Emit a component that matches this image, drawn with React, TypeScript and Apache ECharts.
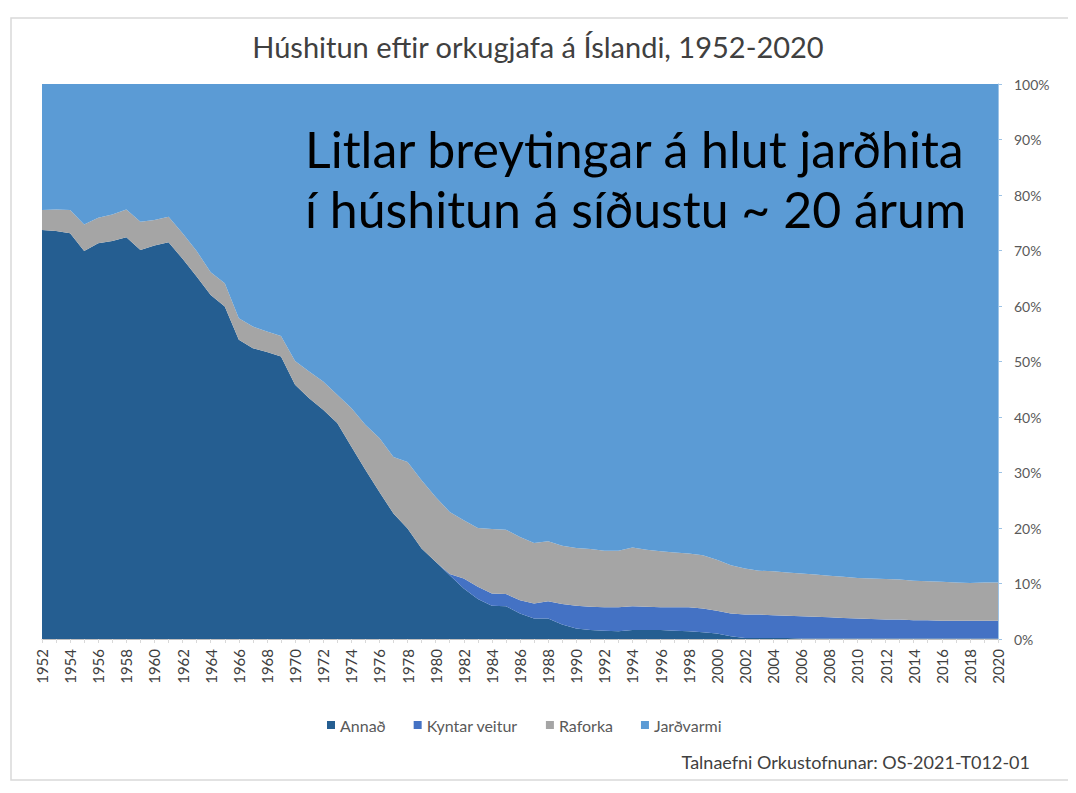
import React, { useEffect, useRef } from "react";
import * as echarts from "echarts";

const years: string[] = [];
for (let y = 1952; y <= 2020; y++) years.push(String(y));

const annad = [
  73.7, 73.5, 73.1, 69.9, 71.3, 71.7, 72.4, 70.1, 70.9, 71.5,
  68.5, 65.3, 62.0, 59.9, 53.9, 52.4, 51.7, 50.9, 45.8, 43.4,
  41.3, 38.9, 34.7, 30.5, 26.5, 22.6, 19.9, 16.3, 13.9, 11.5,
  9.1, 7.2, 6.0, 5.9, 4.6, 3.7, 3.7, 2.6, 1.9, 1.6,
  1.5, 1.4, 1.6, 1.6, 1.6, 1.5, 1.4, 1.2, 1.0, 0.5,
  0.2, 0.2, 0.2, 0.2, 0.1, 0.1, 0.1, 0.1, 0.1, 0.1,
  0.1, 0.1, 0.1, 0.1, 0.1, 0.1, 0.1, 0.1, 0.1,
];
const kyntarVeitur = [
  0, 0, 0, 0, 0, 0, 0, 0, 0, 0,
  0, 0, 0, 0, 0, 0, 0, 0, 0, 0,
  0, 0, 0, 0, 0, 0, 0, 0, 0, 0.2,
  1.8, 2.2, 2.2, 2.2, 2.4, 2.7, 3.1, 3.7, 4.1, 4.2,
  4.2, 4.3, 4.3, 4.2, 4.1, 4.2, 4.3, 4.3, 4.1, 4.1,
  4.2, 4.2, 4.1, 4.0, 4.0, 3.9, 3.8, 3.7, 3.6, 3.5,
  3.4, 3.4, 3.3, 3.3, 3.2, 3.2, 3.2, 3.2, 3.2,
];
const raforka = [
  3.6, 3.9, 4.2, 4.8, 4.6, 4.8, 5.0, 5.1, 4.6, 4.6,
  4.6, 4.6, 4.1, 4.2, 3.9, 3.9, 3.7, 3.7, 4.3, 4.8,
  5.1, 5.1, 6.9, 8.1, 9.7, 10.2, 12.0, 12.3, 11.7, 11.2,
  10.5, 10.6, 11.6, 11.6, 11.4, 10.9, 10.8, 10.5, 10.4, 10.4,
  10.2, 10.2, 10.6, 10.3, 10.1, 9.9, 9.7, 9.6, 9.2, 8.7,
  8.3, 7.9, 7.9, 7.8, 7.7, 7.6, 7.5, 7.4, 7.3, 7.3,
  7.3, 7.2, 7.1, 7.0, 7.0, 6.9, 6.8, 6.9, 6.9,
];
const jardvarmi = [
  22.7, 22.6, 22.7, 25.3, 24.1, 23.5, 22.6, 24.8, 24.5, 23.9,
  26.9, 30.1, 33.9, 35.9, 42.2, 43.7, 44.6, 45.4, 49.9, 51.8,
  53.6, 56.0, 58.4, 61.4, 63.8, 67.2, 68.1, 71.4, 74.4, 77.1,
  78.6, 80.0, 80.2, 80.3, 81.6, 82.7, 82.4, 83.2, 83.6, 83.8,
  84.1, 84.1, 83.5, 83.9, 84.2, 84.4, 84.6, 84.9, 85.7, 86.7,
  87.3, 87.7, 87.8, 88.0, 88.2, 88.4, 88.6, 88.8, 89.0, 89.1,
  89.2, 89.3, 89.5, 89.6, 89.7, 89.8, 89.9, 89.8, 89.8,
];

const seriesNames = ["Annað", "Kyntar veitur", "Raforka", "Jarðvarmi"];
const seriesColors = ["#255E91", "#4472C4", "#A5A5A5", "#5B9BD5"];
const seriesData = [annad, kyntarVeitur, raforka, jardvarmi];

const title = "Húshitun eftir orkugjafa á Íslandi, 1952-2020";
const noteLine1 = "Litlar breytingar á hlut jarðhita";
const noteLine2 = "í húshitun á síðustu ~ 20 árum";
const source = "Talnaefni Orkustofnunar: OS-2021-T012-01";

const FONT = "Lato, 'Open Sans', sans-serif";

export default function App() {
  const ref = useRef<HTMLDivElement>(null);
  useEffect(() => {
    if (!ref.current) return;
    const chart = echarts.init(ref.current, null, { renderer: "svg" });
    chart.setOption({
      animation: false,
      backgroundColor: "#ffffff",
      textStyle: { fontFamily: FONT },
      title: {
        text: title,
        left: "center",
        top: 19,
        textStyle: { fontFamily: FONT, fontSize: 29, fontWeight: "normal", color: "#404040" },
      },
      legend: {
        top: 704,
        left: 314,
        itemWidth: 8,
        itemHeight: 8,
        itemGap: 28,
        icon: "rect",
        textStyle: { fontFamily: FONT, fontSize: 16, color: "#595959" },
        data: seriesNames,
      },
      grid: { left: 34, right: 70, top: 76, bottom: 146, containLabel: false },
      xAxis: {
        type: "category",
        data: years,
        boundaryGap: false,
        axisLine: { lineStyle: { color: "#BFBFBF" } },
        axisTick: { show: true, interval: 0, length: 4, lineStyle: { color: "#D9D9D9" } },
        axisLabel: {
          interval: 1,
          rotate: 90,
          margin: 10,
          fontFamily: FONT,
          fontSize: 15,
          color: "#404040",
        },
      },
      yAxis: {
        type: "value",
        position: "right",
        min: 0,
        max: 100,
        interval: 10,
        splitLine: { show: false },
        axisLine: { show: true, lineStyle: { color: "#9DC3E6" } },
        axisTick: { show: true, length: 4, lineStyle: { color: "#9DC3E6" } },
        axisLabel: {
          formatter: "{value}%",
          margin: 16,
          fontFamily: FONT,
          fontSize: 14,
          color: "#595959",
        },
      },
      series: seriesNames.map((name, i) => ({
        name,
        type: "line",
        stack: "total",
        data: seriesData[i],
        symbol: "none",
        lineStyle: { width: 0 },
        areaStyle: { color: seriesColors[i], opacity: 1 },
        itemStyle: { color: seriesColors[i] },
        z: 2,
      })),
      graphic: [
        {
          type: "rect",
          silent: true,
          shape: { x: 3, y: 10, width: 1066, height: 762 },
          style: { fill: "none", stroke: "#D9D9D9", lineWidth: 1.5 },
        },
        {
          type: "text",
          x: 297,
          y: 141,
          style: {
            text: noteLine1,
            font: "50px " + FONT,
            fill: "#000000",
            textAlign: "left",
            textVerticalAlign: "middle",
          },
          z: 10,
        },
        {
          type: "text",
          x: 297,
          y: 201,
          style: {
            text: noteLine2,
            font: "50px " + FONT,
            fill: "#000000",
            textAlign: "left",
            textVerticalAlign: "middle",
          },
          z: 10,
        },
        {
          type: "text",
          x: 1022,
          y: 754,
          style: {
            text: source,
            font: "18px " + FONT,
            fill: "#404040",
            textAlign: "right",
            textVerticalAlign: "middle",
          },
        },
      ],
    });
    return () => chart.dispose();
  }, []);
  return <div ref={ref} style={{ width: 1060, height: 777 }} />;
}
